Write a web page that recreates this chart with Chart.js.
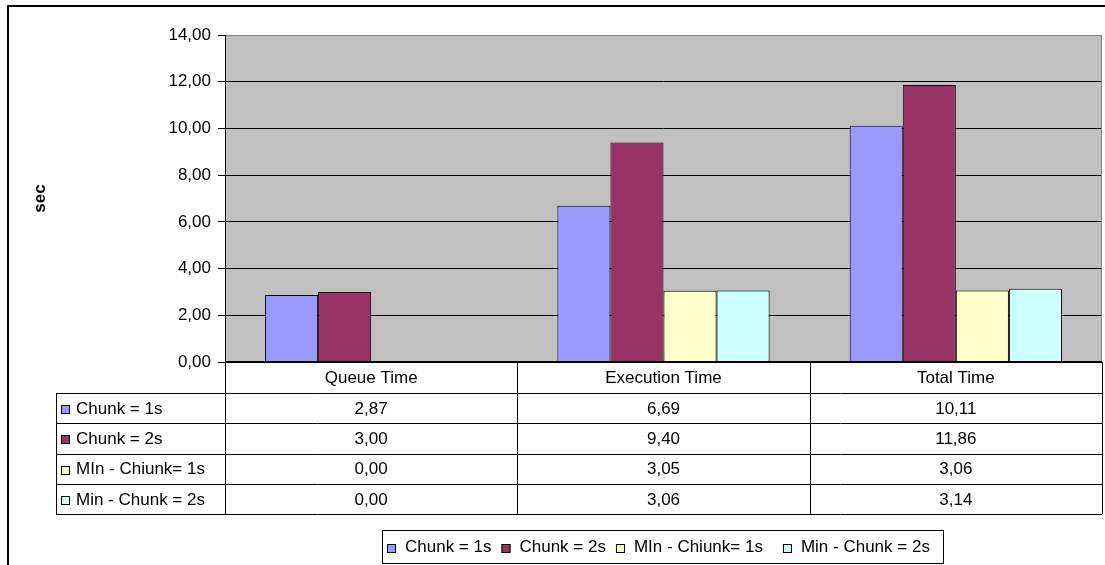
<!DOCTYPE html>
<html>
<head>
<meta charset="utf-8">
<script src="https://cdn.jsdelivr.net/npm/chart.js@4.4.1/dist/chart.umd.min.js"></script>
<style>
  html, body { margin: 0; padding: 0; background: #fff; }
  canvas { display: block; }
</style>
</head>
<body>
<canvas id="chart" width="1105" height="565"></canvas>
<script>
// Timing categories and series
const categories = ['Queue Time', 'Execution Time', 'Total Time'];
const seriesNames = ['Chunk = 1s', 'Chunk = 2s', 'MIn - Chiunk= 1s', 'Min - Chunk = 2s'];
const chunk1s = [2.87, 6.69, 10.11];
const chunk2s = [3.00, 9.40, 11.86];
const minChunk1s = [0.00, 3.05, 3.06];
const minChunk2s = [0.00, 3.06, 3.14];
const yTicks = [0, 2, 4, 6, 8, 10, 12, 14];
const axisTitle = 'sec';

const seriesValues = [chunk1s, chunk2s, minChunk1s, minChunk2s];
const seriesColors = ['#9999FF', '#993366', '#FFFFCC', '#CCFFFF'];

const FONT = '17px "Liberation Sans", Arial, sans-serif';
const fmt = v => v.toFixed(2).replace('.', ',');

// Geometry of the data table under the plot
const headerH = 31;
const rowH = 30.25;
const tableLeft = 56;

const frameAndTable = {
  id: 'frameAndTable',
  beforeDraw(chart) {
    const { ctx, chartArea: a } = chart;
    ctx.save();
    ctx.fillStyle = '#fff';
    ctx.fillRect(0, 0, chart.width, chart.height);
    // outer chart frame
    ctx.fillStyle = '#000';
    ctx.fillRect(7, 5, chart.width - 7, 2);
    ctx.fillRect(7, 5, 2, chart.height - 5);
    // plot background
    ctx.fillStyle = '#C0C0C0';
    ctx.fillRect(a.left, a.top, a.right - a.left, a.bottom - a.top);
    ctx.restore();
  },
  afterDraw(chart) {
    const { ctx, chartArea: a } = chart;
    const xs = chart.scales.x;
    const n = categories.length;
    const colW = (a.right - a.left) / n;
    ctx.save();

    // plot border
    ctx.strokeStyle = '#808080';
    ctx.lineWidth = 1;
    ctx.strokeRect(a.left + 0.5, a.top + 0.5, a.right - a.left - 1, a.bottom - a.top);
    // value axis line and base line
    ctx.strokeStyle = '#000';
    ctx.beginPath();
    ctx.moveTo(a.left + 0.5, a.top);
    ctx.lineTo(a.left + 0.5, a.bottom);
    ctx.stroke();
    ctx.lineWidth = 2;
    ctx.beginPath();
    ctx.moveTo(a.left, a.bottom);
    ctx.lineTo(a.right, a.bottom);
    ctx.stroke();

    // data table
    const top = a.bottom;
    const rowsTop = top + headerH;
    const bottom = rowsTop + rowH * seriesNames.length;
    ctx.lineWidth = 1;
    ctx.strokeStyle = '#000';
    ctx.beginPath();
    // verticals
    for (let i = 0; i <= n; i++) {
      const x = Math.round(a.left + i * colW) + 0.5;
      ctx.moveTo(x, top);
      ctx.lineTo(x, bottom);
    }
    ctx.moveTo(tableLeft + 0.5, rowsTop);
    ctx.lineTo(tableLeft + 0.5, bottom);
    // horizontals
    for (let r = 0; r <= seriesNames.length; r++) {
      const y = Math.round(rowsTop + r * rowH) + 0.5;
      ctx.moveTo(tableLeft, y);
      ctx.lineTo(a.right, y);
    }
    ctx.stroke();

    ctx.font = FONT;
    ctx.fillStyle = '#000';
    ctx.textBaseline = 'middle';
    ctx.textAlign = 'center';
    categories.forEach((c, i) => {
      ctx.fillText(c, xs.getPixelForValue(i), top + headerH / 2 + 1);
    });
    seriesNames.forEach((name, r) => {
      const cy = rowsTop + r * rowH + rowH / 2 + 1;
      // legend key
      ctx.fillStyle = seriesColors[r];
      ctx.fillRect(61, Math.round(cy - 4), 9, 9);
      ctx.strokeStyle = '#000';
      ctx.strokeRect(61.5, Math.round(cy - 4) + 0.5, 8, 8);
      ctx.fillStyle = '#000';
      ctx.textAlign = 'left';
      ctx.fillText(name, 76, cy);
      ctx.textAlign = 'center';
      seriesValues[r].forEach((v, i) => {
        ctx.fillText(fmt(v), xs.getPixelForValue(i), cy);
      });
    });

    // legend box
    const lx = 382, ly = 530, lw = 561, lh = 33;
    ctx.fillStyle = '#808080';
    ctx.fillRect(lx + 1, ly + lh, lw, 1);
    ctx.fillStyle = '#fff';
    ctx.fillRect(lx, ly, lw, lh);
    ctx.strokeStyle = '#000';
    ctx.strokeRect(lx + 0.5, ly + 0.5, lw, lh);
    let kx = 387;
    const ky = ly + lh / 2 + 1;
    seriesNames.forEach((name, r) => {
      ctx.fillStyle = seriesColors[r];
      ctx.fillRect(kx, Math.round(ky - 4), 9, 9);
      ctx.strokeStyle = '#000';
      ctx.strokeRect(kx + 0.5, Math.round(ky - 4) + 0.5, 8, 8);
      ctx.fillStyle = '#000';
      ctx.textAlign = 'left';
      ctx.fillText(name, kx + 18, ky);
      kx += 18 + ctx.measureText(name).width + (r === 2 ? 20 : 10);
    });

    // axis title
    ctx.save();
    ctx.translate(40, (a.top + a.bottom) / 2);
    ctx.rotate(-Math.PI / 2);
    ctx.font = 'bold 17px "Liberation Sans", Arial, sans-serif';
    ctx.textAlign = 'center';
    ctx.fillText(axisTitle, 0, 0);
    ctx.restore();

    ctx.restore();
  }
};

new Chart(document.getElementById('chart'), {
  type: 'bar',
  data: {
    labels: categories,
    datasets: seriesNames.map((name, i) => ({
      label: name,
      data: seriesValues[i],
      backgroundColor: seriesColors[i],
      borderColor: '#000',
      borderWidth: 1,
      barPercentage: 1,
      categoryPercentage: 0.726
    }))
  },
  options: {
    responsive: false,
    animation: false,
    devicePixelRatio: 1,
    layout: { padding: { top: 35, right: 3, bottom: 203, left: 0 } },
    plugins: {
      legend: { display: false },
      tooltip: { enabled: false }
    },
    scales: {
      x: { display: false },
      y: {
        min: yTicks[0],
        max: yTicks[yTicks.length - 1],
        afterFit(scale) { scale.width = 225; },
        afterBuildTicks(scale) { scale.ticks = yTicks.map(v => ({ value: v })); },
        ticks: {
          padding: 7,
          color: '#000',
          font: { family: '"Liberation Sans", Arial, sans-serif', size: 17 },
          callback: v => fmt(v)
        },
        grid: { color: '#000', lineWidth: 1, tickLength: 7 },
        border: { display: false }
      }
    }
  },
  plugins: [frameAndTable]
});
</script>
</body>
</html>
